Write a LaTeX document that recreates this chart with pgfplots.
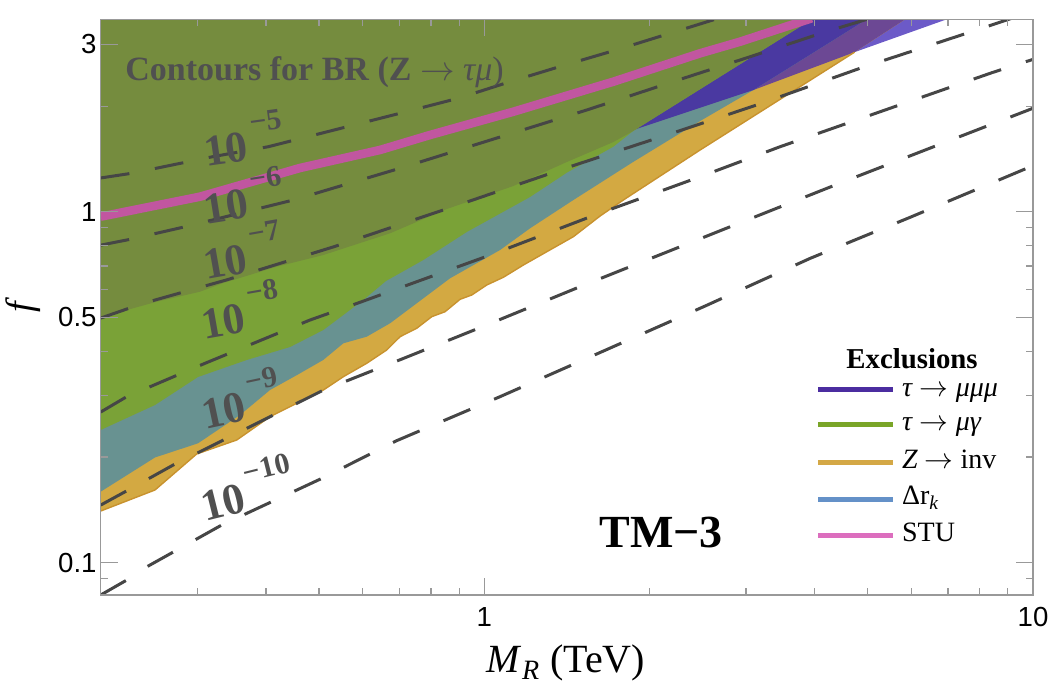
\documentclass[border=0pt]{standalone}
\usepackage{fontspec}
\setmainfont{Liberation Serif}
\setsansfont{Liberation Sans}
\usepackage{pgfplots}
\pgfplotsset{compat=1.18}
\definecolor{lpurple}{HTML}{6C5AC8}
\definecolor{gold}{HTML}{D3A942}
\definecolor{goldedge}{HTML}{C8922E}
\definecolor{purplish}{HTML}{6C4894}
\definecolor{teal}{HTML}{689291}
\definecolor{dblue}{HTML}{4A39A1}
\definecolor{green}{HTML}{7AA237}
\definecolor{olive}{HTML}{758C3E}
\definecolor{pink}{HTML}{C156A0}
\definecolor{dashcol}{HTML}{464646}
\definecolor{labgray}{HTML}{505050}
\definecolor{framegray}{HTML}{999999}
\definecolor{legblue}{HTML}{4B2DA0}
\definecolor{leggreen}{HTML}{7AA528}
\definecolor{leggold}{HTML}{D4A846}
\definecolor{legsky}{HTML}{6491C8}
\definecolor{legpink}{HTML}{DC6EBE}
\tikzset{pix/.style={x=0.5pt,y=-0.5pt,shift={(-50.35pt,297.5pt)}},
  contour/.style={draw=dashcol, line width=1.5pt, dash pattern=on 14.5pt off 13pt}}
\newcommand{\clab}[1]{\bfseries\fontsize{22}{22}\selectfont 10\kern2.5pt\raisebox{0.62em}{\fontsize{15}{15}\selectfont −#1}}
\newcommand{\arr}{\ensuremath{\rightarrow}}
\begin{document}
\begin{tikzpicture}
\begin{axis}[
  at={(0,0)}, anchor=south west,
  scale only axis, width=466.15pt, height=287.85pt,
  xmode=log, ymode=log,
  xmin=0.2, xmax=10, ymin=0.0808, ymax=3.536,
  axis on top, no markers,
  axis line style={draw=framegray, line width=0.7pt},
  tick style={draw=framegray, line width=0.6pt},
  major tick length=8.5pt, minor tick length=3.5pt,
  xtick={1,10}, xticklabels={1,10},
  minor xtick={0.3,0.4,0.5,0.6,0.7,0.8,0.9,2,3,4,5,6,7,8,9},
  ytick={0.1,0.5,1,3}, yticklabels={0.1,0.5,1,3},
  minor ytick={0.09,0.2,0.3,0.4,0.6,0.7,0.8,0.9,2},
  ticklabel style={font=\sffamily\fontsize{13.8}{14}\selectfont},
  xticklabel style={inner sep=0pt, yshift=-5.85pt},
  yticklabel style={inner sep=0pt, xshift=-1.85pt},
  /pgf/number format/assume math mode=true,
]
% tau -> mu mu mu over white (light purple)
\addplot[fill=lpurple, draw=none] coordinates {(0.2,0.5001) (1.870,1.710) (3.094,2.223) (4.73,2.85) (7.772,3.759) (0.2,3.759)};
% Z -> inv (gold)
\addplot[fill=gold, draw=none] coordinates {(0.2,0.1402) (0.2512,0.1610) (0.2992,0.2039) (0.3540,0.2235) (0.4070,0.2604) (0.4553,0.2844) (0.5091,0.3103) (0.5536,0.3386) (0.6107,0.3698) (0.6643,0.4035) (0.7024,0.4403) (0.7534,0.4653) (0.8023,0.5021) (0.8484,0.5188) (0.9036,0.5628) (0.9490,0.5789) (1.0106,0.6182) (1.0836,0.6503) (1.1785,0.7049) (1.3001,0.7692) (1.4537,0.8489) (1.6261,0.9723) (1.7931,1.0800) (2.4742,1.4997) (4.73,2.85) (6.212,3.759) (0.2,3.759)};
% mu mu mu over gold
\addplot[fill=purplish, draw=none] coordinates {(0.2,0.5001) (1.870,1.710) (3.094,2.223) (4.73,2.85) (6.212,3.759) (0.2,3.759)};
% Delta r_k (teal)
\addplot[fill=teal, draw=none] coordinates {(0.2,0.1592) (0.2512,0.1993) (0.3009,0.2187) (0.3589,0.2634) (0.4070,0.3103) (0.4559,0.3424) (0.5088,0.3779) (0.5536,0.4216) (0.6107,0.4403) (0.6735,0.4808) (0.8664,0.6460) (1.0687,0.7779) (1.2121,0.8969) (1.4537,1.0800) (1.8677,1.3860) (2.4742,1.8140) (3.094,2.223) (5.301,3.759) (0.2,3.759)};
% mu mu mu over Delta r_k
\addplot[fill=dblue, draw=none] coordinates {(0.2,0.5001) (1.870,1.710) (3.094,2.223) (5.301,3.759) (0.2,3.759)};
% tau -> mu gamma (green)
\addplot[fill=green, draw=none] coordinates {(0.2,0.2387) (0.2512,0.2812) (0.3009,0.3380) (0.3691,0.3779) (0.4427,0.4115) (0.5091,0.4601) (0.6021,0.5603) (0.6623,0.6347) (0.7745,0.7284) (0.9293,0.8754) (1.2121,1.1015) (1.4140,1.2921) (1.7194,1.5326) (1.8677,1.6987) (4.2086,3.759) (0.2,3.759)};
% overlap (olive)
\addplot[fill=olive, draw=none] coordinates {(0.2,0.5001) (0.2530,0.5540) (0.3034,0.5916) (0.3346,0.6264) (0.4186,0.6972) (0.5091,0.7528) (0.6735,0.8680) (0.8545,1.0181) (1.1300,1.1840) (1.4140,1.3860) (1.7194,1.5805) (1.8677,1.6987) (4.2086,3.759) (0.2,3.759)};
% gold edge
\addplot[draw=goldedge, line width=0.7pt] coordinates {(0.2,0.1402) (0.2512,0.1610) (0.2992,0.2039) (0.3540,0.2235) (0.4070,0.2604) (0.4553,0.2844) (0.5091,0.3103) (0.5536,0.3386) (0.6107,0.3698) (0.6643,0.4035) (0.7024,0.4403) (0.7534,0.4653) (0.8023,0.5021) (0.8484,0.5188) (0.9036,0.5628) (0.9490,0.5789) (1.0106,0.6182) (1.0836,0.6503) (1.1785,0.7049) (1.3001,0.7692) (1.4537,0.8489) (1.6261,0.9723) (1.7931,1.0800) (2.4742,1.4997) (4.73,2.85)};
% STU
\addplot[draw=pink, line width=4.3pt] coordinates {(0.2,0.9680) (0.3034,1.1037) (0.4616,1.3324) (0.6458,1.4997) (0.7967,1.6547) (1.1300,1.9283) (1.7194,2.3479) (2.4742,2.8288) (2.9262,3.0530) (3.9536,3.561)};
% contours of BR(Z -> tau mu)
\addplot[contour] coordinates {(0.2,1.248) (0.2278,1.287) (0.320,1.435) (0.404,1.532) (0.702,1.908) (0.897,2.106) (1.114,2.347) (1.404,2.620) (1.756,2.904) (2.988,3.759)};
\addplot[contour] coordinates {(0.2,0.803) (0.226,0.834) (0.285,0.906) (0.449,1.080) (0.702,1.330) (0.982,1.567) (1.538,1.950) (2.405,2.452) (2.988,2.736) (4.197,3.260) (5.672,3.759)};
\addplot[contour] coordinates {(0.2,0.4975) (0.239,0.548) (0.339,0.639) (0.531,0.794) (0.916,1.057) (1.433,1.344) (2.243,1.691) (3.138,2.015) (4.895,2.580) (7.626,3.238) (10.16,3.759)};
\addplot[contour] coordinates {(0.2,0.2685) (0.223,0.2969) (0.310,0.3699) (0.481,0.491) (0.598,0.554) (1.024,0.752) (1.592,0.979) (2.474,1.258) (3.460,1.532) (5.378,1.950) (8.412,2.490) (10,2.718)};
\addplot[contour] coordinates {(0.2,0.1458) (0.2215,0.1591) (0.271,0.1896) (0.3346,0.2234) (0.509,0.310) (0.707,0.380) (0.982,0.467) (1.520,0.618) (2.355,0.812) (2.926,0.930) (4.512,1.217) (7.014,1.591) (10,1.972)};
\addplot[contour] coordinates {(0.2,0.0808) (0.223,0.0891) (0.2426,0.0972) (0.3323,0.1279) (0.5057,0.1737) (0.692,0.2224) (1.068,0.2969) (1.638,0.399) (2.526,0.5384) (3.924,0.736) (5.972,0.964) (10,1.353)};
\end{axis}
\begin{scope}[pix]
  \node[rotate=8, text=labgray, inner sep=0pt] at (243,138) {\clab{5}};
  \node[rotate=9, text=labgray, inner sep=0pt] at (243,195) {\clab{6}};
  \node[rotate=10, text=labgray, inner sep=0pt] at (242,250) {\clab{7}};
  \node[rotate=10, text=labgray, inner sep=0pt] at (240,309) {\clab{8}};
  \node[rotate=12, text=labgray, inner sep=0pt] at (240,398) {\clab{9}};
  \node[rotate=14, text=labgray, inner sep=0pt] at (246,487) {\clab{10}};
  \node[anchor=base west, inner sep=0pt, text=labgray, font=\fontsize{17}{17}\selectfont] at (125,81) {\textbf{Contours for BR (Z} \arr{} \textit{τμ})};
  \node[anchor=base west, inner sep=0pt, font=\bfseries\fontsize{23}{23}\selectfont] at (599,548) {TM−3};
  \node[anchor=base west, inner sep=0pt, font=\bfseries\fontsize{14.4}{14.4}\selectfont] at (846,369) {Exclusions};
  \draw[legblue, line width=2.5pt] (818,390) -- (893,390);
  \draw[leggreen, line width=2.5pt] (818,425) -- (893,425);
  \draw[leggold, line width=2.5pt] (818,462.7) -- (893,462.7);
  \draw[legsky, line width=2.5pt] (818,499.3) -- (893,499.3);
  \draw[legpink, line width=2.5pt] (818,536) -- (893,536);
  \begin{scope}[every node/.style={anchor=base west, inner sep=0pt, font=\fontsize{14}{14}\selectfont}]
  \node at (901.7,397) {\textit{τ} \arr{} \textit{μμμ}};
  \node at (901.7,431) {\textit{τ} \arr{} \textit{μγ}};
  \node at (901.7,468.3) {\textit{Z} \arr{} inv};
  \node at (901.7,505) {Δr\textsubscript{\textit{k}}};
  \node at (901.7,542) {STU};
  \end{scope}
  \node[anchor=base, inner sep=0pt, font=\fontsize{20}{20}\selectfont] at (566,673) {\textit{M}\textsubscript{\textit{R}} (TeV)};
  \node[anchor=base, rotate=90, inner sep=0pt, font=\fontsize{19}{19}\selectfont] at (33,305) {\textit{f}};
\end{scope}
\pgfresetboundingbox
\begin{scope}[pix]
  \path[use as bounding box] (0,0) rectangle (1050,690);
\end{scope}
\end{tikzpicture}
\end{document}
